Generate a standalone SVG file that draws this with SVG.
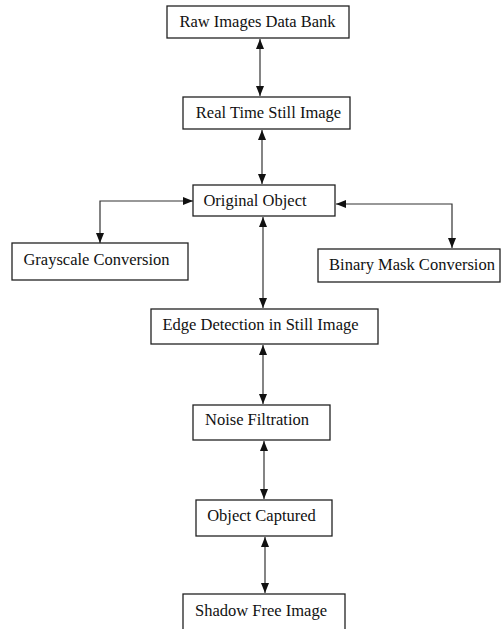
<svg xmlns="http://www.w3.org/2000/svg" width="501" height="629" viewBox="0 0 501 629">
<style>
.box{fill:#fff;stroke:#222;stroke-width:1.3}
.lbl{font-family:"Liberation Serif","Times New Roman",serif;font-size:16.5px;fill:#111;text-anchor:middle}
.con{fill:none;stroke:#333;stroke-width:1.2;marker-start:url(#ah);marker-end:url(#ah)}
</style>
<defs>
<marker id="ah" viewBox="0 0 10 10" refX="10" refY="5" markerWidth="10" markerHeight="10" markerUnits="userSpaceOnUse" orient="auto-start-reverse">
<path d="M0,1 L10,5 L0,9 Z" fill="#111"/>
</marker>
</defs>
<rect width="501" height="629" fill="#fff"/>
<g id="connectors">
<path class="con" d="M260,39 V96"/>
<path class="con" d="M262,130 V184"/>
<path class="con" d="M193,201 H100 V243"/>
<path class="con" d="M336,204 H452 V248"/>
<path class="con" d="M263,217 V308"/>
<path class="con" d="M263,345 V404"/>
<path class="con" d="M264,441 V499"/>
<path class="con" d="M265,537 V593"/>
</g>
<g id="n1"><rect class="box" x="167" y="6" width="182" height="32"/><text class="lbl" x="257.5" y="27">Raw Images Data Bank</text></g>
<g id="n2"><rect class="box" x="183" y="97" width="167" height="32"/><text class="lbl" x="268.5" y="118">Real Time Still Image</text></g>
<g id="n3"><rect class="box" x="193" y="185" width="142" height="31"/><text class="lbl" x="255" y="206">Original Object</text></g>
<g id="n4"><rect class="box" x="12" y="243" width="176" height="37"/><text class="lbl" x="96.5" y="265">Grayscale Conversion</text></g>
<g id="n5"><rect class="box" x="318" y="249" width="182" height="33"/><text class="lbl" x="412" y="270">Binary Mask Conversion</text></g>
<g id="n6"><rect class="box" x="151" y="309" width="227" height="35"/><text class="lbl" x="260.5" y="330">Edge Detection in Still Image</text></g>
<g id="n7"><rect class="box" x="193" y="405" width="137" height="35"/><text class="lbl" x="257" y="425">Noise Filtration</text></g>
<g id="n8"><rect class="box" x="196" y="500" width="136" height="36"/><text class="lbl" x="261.5" y="521">Object Captured</text></g>
<g id="n9"><rect class="box" x="183" y="594" width="162" height="40"/><text class="lbl" x="261" y="616">Shadow Free Image</text></g>
</svg>
